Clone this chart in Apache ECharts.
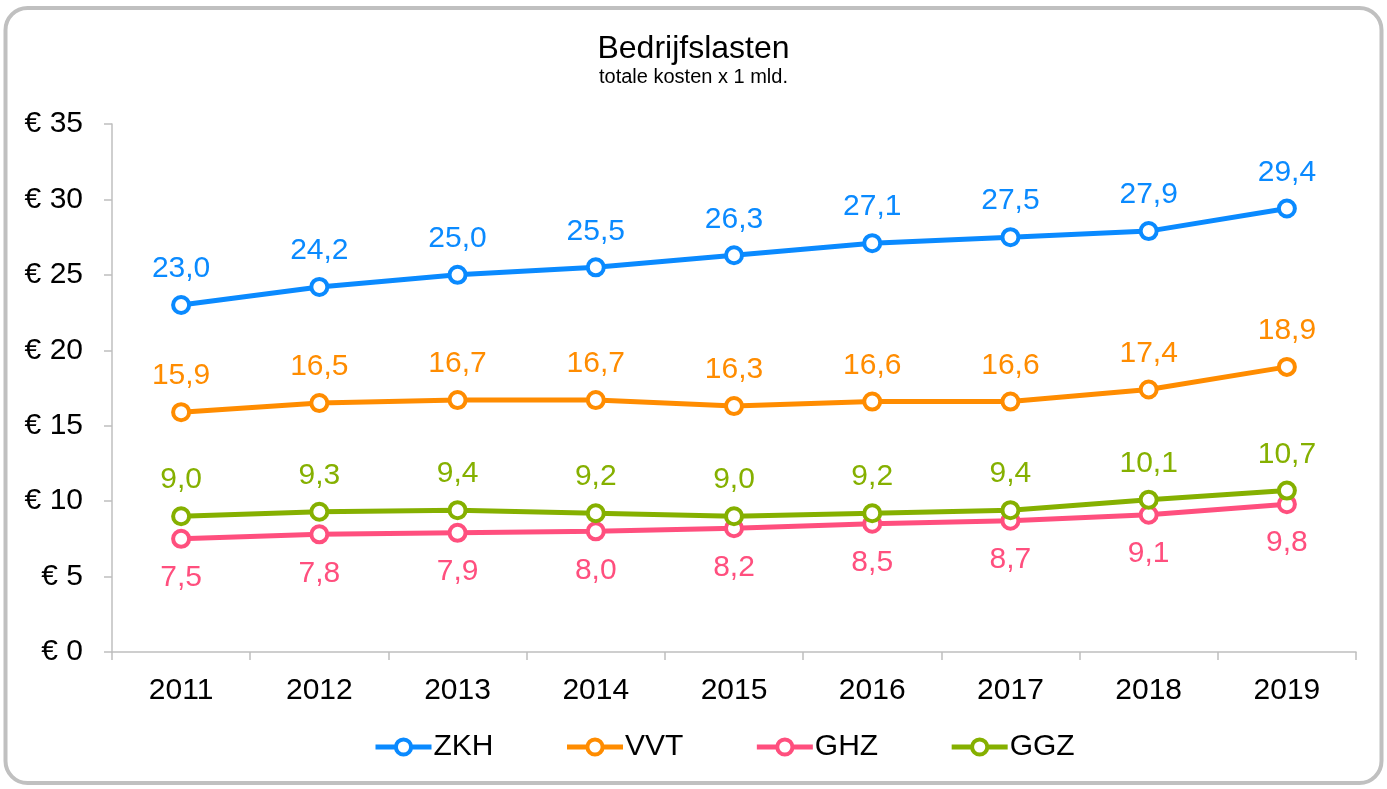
<!DOCTYPE html>
<html>
<head>
<meta charset="utf-8">
<script src="https://cdn.jsdelivr.net/npm/echarts@6/dist/echarts.min.js"></script>
<style>
  html, body { margin: 0; padding: 0; background: #fff; }
  #chart { width: 1387px; height: 789px; }
</style>
</head>
<body>
<div id="chart"></div>
<script>
const years = ['2011', '2012', '2013', '2014', '2015', '2016', '2017', '2018', '2019'];
const zkh = [23.0, 24.2, 25.0, 25.5, 26.3, 27.1, 27.5, 27.9, 29.4];
const vvt = [15.9, 16.5, 16.7, 16.7, 16.3, 16.6, 16.6, 17.4, 18.9];
const ghz = [7.5, 7.8, 7.9, 8.0, 8.2, 8.5, 8.7, 9.1, 9.8];
const ggz = [9.0, 9.3, 9.4, 9.2, 9.0, 9.2, 9.4, 10.1, 10.7];

const FONT = '"Liberation Sans", Arial, sans-serif';

// one line series, label above or below the point
function makeSeries(name, data, color, pos) {
    return {
        type: 'line',
        name: name,
        data: data,
        symbol: 'circle',
        symbolSize: 16,
        lineStyle: { width: 5, color: color },
        itemStyle: { color: '#fff', borderColor: color, borderWidth: 4 },
        label: {
            show: true,
            position: pos,
            distance: pos === 'top' ? 11 : 14,
            color: color,
            fontSize: 30,
            fontFamily: FONT,
            formatter: p => p.value.toFixed(1).replace('.', ',')
        },
        z: 3
    };
}

const chart = echarts.init(document.getElementById('chart'));
chart.setOption({
    animation: false,
    textStyle: { fontFamily: FONT },
    title: {
        text: 'Bedrijfslasten',
        subtext: 'totale kosten x 1 mld.',
        left: 'center',
        top: 28,
        itemGap: 2,
        textStyle: { fontSize: 32, fontWeight: 'normal', color: '#000', fontFamily: FONT },
        subtextStyle: { fontSize: 20, color: '#000', fontFamily: FONT }
    },
    graphic: [{
        type: 'rect',
        shape: { x: 5.5, y: 8, width: 1376, height: 775, r: 22 },
        style: { fill: 'none', stroke: '#c0c0c0', lineWidth: 4 },
        silent: true,
        z: -1
    }],
    legend: {
        top: 727,
        left: 368,
        itemGap: 71,
        itemWidth: 56,
        itemHeight: 19,
        lineStyle: { width: 5 },
        itemStyle: { borderWidth: 4 },
        textStyle: { fontSize: 30, color: '#000', fontFamily: FONT, padding: [0, 0, 0, -3] },
        data: ['ZKH', 'VVT', 'GHZ', 'GGZ']
    },
    grid: { left: 112, right: 31, top: 124, bottom: 137 },
    xAxis: {
        type: 'category',
        data: years,
        boundaryGap: true,
        axisLine: { lineStyle: { color: '#bfbfbf', width: 1.5 } },
        axisTick: { show: true, length: 8, lineStyle: { color: '#bfbfbf', width: 1.5 } },
        axisLabel: { fontSize: 30, color: '#000', margin: 24, fontFamily: FONT }
    },
    yAxis: {
        type: 'value',
        min: 0,
        max: 35,
        interval: 5,
        splitLine: { show: false },
        axisLine: { show: true, lineStyle: { color: '#bfbfbf', width: 1.5 } },
        axisTick: { show: true, length: 8, lineStyle: { color: '#bfbfbf', width: 1.5 } },
        axisLabel: { fontSize: 30, color: '#000', margin: 29, fontFamily: FONT, formatter: v => '€ ' + v }
    },
    series: [
        makeSeries('ZKH', zkh, '#0a8aff', 'top'),
        makeSeries('VVT', vvt, '#ff8c00', 'top'),
        makeSeries('GHZ', ghz, '#ff4f7e', 'bottom'),
        makeSeries('GGZ', ggz, '#85b000', 'top')
    ]
});
</script>
</body>
</html>
